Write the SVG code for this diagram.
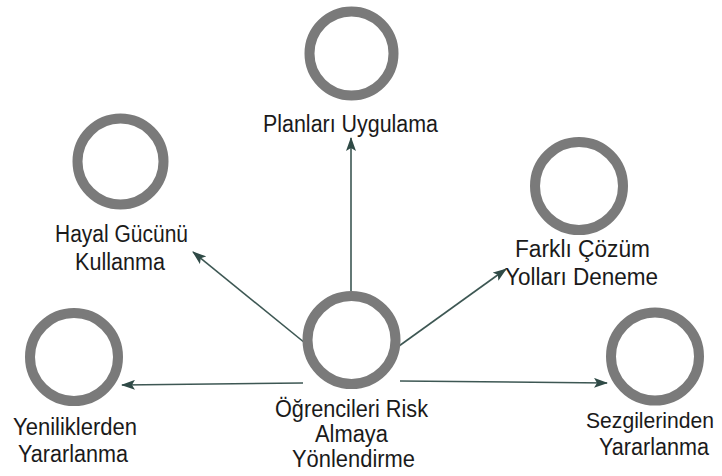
<svg xmlns="http://www.w3.org/2000/svg" width="722" height="476" viewBox="0 0 722 476">
  <defs>
    <style>
      .ring { fill: #ffffff; stroke: #7a7a7a; stroke-width: 10; }
      .lbl { font-family: "Liberation Sans", Arial, sans-serif; font-size: 23px; fill: #1a1a1a; text-anchor: middle; }
      .link { stroke: #3d5753; stroke-width: 1.6; fill: none; marker-end: url(#head); }
    </style>
    <marker id="head" viewBox="0 0 14 10" refX="13" refY="5" markerWidth="14" markerHeight="10" markerUnits="userSpaceOnUse" orient="auto">
      <path d="M0,0 L14,5 L0,10 L3,5 Z" fill="#2f4a46"/>
    </marker>
  </defs>
  <rect width="722" height="476" fill="#ffffff"/>

  <g id="connectors">
    <line class="link" x1="351" y1="291" x2="351" y2="138"/>
    <line class="link" x1="305" y1="343" x2="193" y2="252"/>
    <line class="link" x1="399" y1="346" x2="506" y2="269"/>
    <line class="link" x1="303" y1="383" x2="122" y2="385"/>
    <line class="link" x1="400" y1="381" x2="607" y2="383"/>
  </g>

  <g id="plan">
    <circle class="ring" cx="351.5" cy="53.5" r="42"/>
    <text class="lbl" x="350.5" y="132" textLength="175" lengthAdjust="spacingAndGlyphs">Planları Uygulama</text>
  </g>

  <g id="hayal">
    <circle class="ring" cx="120.5" cy="161.5" r="43"/>
    <text class="lbl" x="121.5" y="242" textLength="133" lengthAdjust="spacingAndGlyphs">Hayal Gücünü</text>
    <text class="lbl" x="120" y="270" textLength="90" lengthAdjust="spacingAndGlyphs">Kullanma</text>
  </g>

  <g id="farkli">
    <circle class="ring" cx="579" cy="186" r="44"/>
    <text class="lbl" x="582.5" y="257" textLength="135" lengthAdjust="spacingAndGlyphs">Farklı Çözüm</text>
    <text class="lbl" x="581.5" y="285" textLength="153" lengthAdjust="spacingAndGlyphs">Yolları Deneme</text>
  </g>

  <g id="yenilik">
    <circle class="ring" cx="74" cy="357" r="44"/>
    <text class="lbl" x="75" y="435" textLength="124" lengthAdjust="spacingAndGlyphs">Yeniliklerden</text>
    <text class="lbl" x="73" y="462" textLength="110" lengthAdjust="spacingAndGlyphs">Yararlanma</text>
  </g>

  <g id="ogrenci">
    <circle class="ring" cx="351.5" cy="340" r="44"/>
    <text class="lbl" x="351.5" y="417" textLength="153" lengthAdjust="spacingAndGlyphs">Öğrencileri Risk</text>
    <text class="lbl" x="351.5" y="442" textLength="73" lengthAdjust="spacingAndGlyphs">Almaya</text>
    <text class="lbl" x="353.5" y="467" textLength="123" lengthAdjust="spacingAndGlyphs">Yönlendirme</text>
  </g>

  <g id="sezgi">
    <circle class="ring" cx="655" cy="356.5" r="44"/>
    <text class="lbl" x="650" y="428" font-size="22" textLength="128" lengthAdjust="spacingAndGlyphs" style="font-size:22px">Sezgilerinden</text>
    <text class="lbl" x="654" y="455" textLength="110" lengthAdjust="spacingAndGlyphs">Yararlanma</text>
  </g>
</svg>
